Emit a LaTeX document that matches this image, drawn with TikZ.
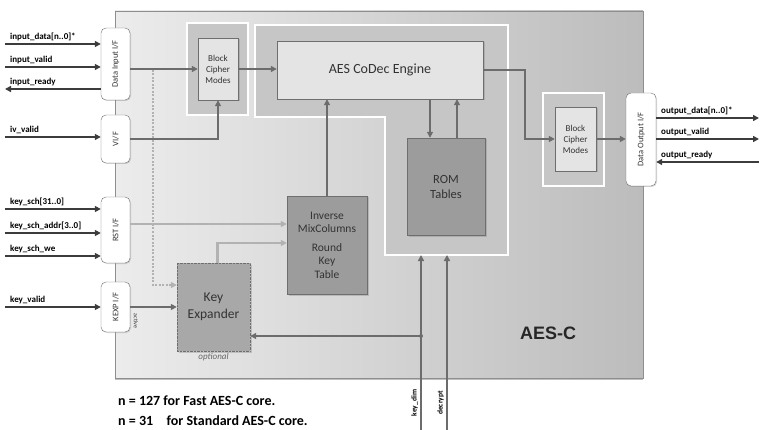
\documentclass[tikz,border=0pt]{standalone}
\usepackage{fontspec}
\setmainfont{Carlito}
\newfontfamily\headfont{Liberation Sans}
\usetikzlibrary{arrows.meta, positioning, shadows}

\definecolor{coreL}{HTML}{ECECEC}
\definecolor{coreR}{HTML}{BCBCBC}
\definecolor{coreline}{HTML}{8E8E8E}
\definecolor{regfill}{HTML}{C6C6C6}
\definecolor{lite}{HTML}{E4E4E4}
\definecolor{darkfill}{HTML}{9C9C9C}
\definecolor{kefill}{HTML}{A8A8A8}
\definecolor{boxline}{HTML}{6E6E6E}
\definecolor{sigcol}{HTML}{3C3C3C}
\definecolor{conncol}{HTML}{6C6C6C}
\definecolor{lconcol}{HTML}{B2B2B2}
\definecolor{txt}{HTML}{333333}

\tikzset{
  >={Triangle[length=6pt,width=6pt]},
  core/.style={draw=coreline, line width=.8pt, left color=coreL, right color=coreR,
    drop shadow={shadow xshift=0pt, shadow yshift=-2pt, opacity=.5}},
  ifbox/.style={draw=boxline, fill=white, rounded corners=5pt, minimum width=29pt,
    inner sep=0pt, font=\fontsize{8.5}{9}\selectfont, text=txt,
    drop shadow={shadow xshift=1pt, shadow yshift=-1pt, opacity=.3}},
  region/.style={draw=white, line width=1.3pt, fill=regfill},
  litebox/.style={draw=boxline, fill=lite, inner sep=0pt, align=center, text=txt,
    drop shadow={shadow xshift=1.5pt, shadow yshift=-1.5pt, opacity=.35}},
  darkbox/.style={litebox, fill=darkfill},
  sig/.style={draw=sigcol, line width=2.2pt},
  conn/.style={draw=conncol, line width=2pt},
  lconn/.style={draw=lconcol, line width=2.5pt},
  dashline/.style={draw=lconcol, line width=1.5pt, dash pattern=on 2pt off 1.5pt},
  siglabel/.style={font=\bfseries\fontsize{9}{9}\selectfont, inner sep=1pt, anchor=south west}
}

\begin{document}
\begin{tikzpicture}[x=1pt, y=-1pt]
  \useasboundingbox (0,0) rectangle (762,430);

  % core
  \node[core, minimum width=528pt, minimum height=367pt] (core) at (379,194.5) {};
  \node[font=\headfont\bfseries\fontsize{18}{20}\selectfont, text=black!85] (title) at (548,333) {AES-C};

  % engine area
  \draw[region] (255,25) -- (508,25) -- (508,255) -- (385,255) -- (385,117) -- (255,117) -- cycle;
  \coordinate (ebase) at (446,255);
  \node[region, minimum width=61pt, minimum height=92pt] (bcm1o) at (217.5,69) {};
  \node[region, minimum width=61pt, minimum height=93pt] (bcm2o) at (573.5,139.5) {};

  \node[litebox, minimum width=40pt, minimum height=62pt, font=\fontsize{9}{11}\selectfont] (bcm1) at (218,69) {Block\\Cipher\\Modes};
  \node[litebox, minimum width=41pt, minimum height=64pt, font=\fontsize{9}{11}\selectfont] (bcm2) at (575.5,139) {Block\\Cipher\\Modes};
  \node[litebox, minimum width=206pt, minimum height=58pt, font=\fontsize{14}{16}\selectfont] (eng) at (380,70) {AES CoDec Engine};
  \node[darkbox, minimum width=78pt, minimum height=97pt, font=\fontsize{12.5}{15}\selectfont] (rom) at (446,186.5) {ROM\\Tables};
  \node[darkbox, minimum width=80pt, minimum height=98pt, font=\fontsize{11.5}{13.5}\selectfont] (imc) at (327,245) {Inverse\\MixColumns\\[5pt]Round\\Key\\Table};
  \node[darkbox, fill=kefill, densely dotted, minimum width=73pt, minimum height=88pt, font=\fontsize{13.5}{17}\selectfont] (ke) at (213.5,307) {Key\\Expander};
  \node[below=1pt of ke, font=\itshape\fontsize{9}{10}\selectfont, text=black!60, inner sep=1pt] (opt) {optional};

  % interfaces
  \node[ifbox, minimum height=72pt] (din) at (115.5,64) {\rotatebox{90}{Data Input I/F}};
  \node[ifbox, minimum height=48pt] (vif) at (115.5,139) {\rotatebox{90}{VI/F}};
  \node[ifbox, minimum height=66pt] (rif) at (115.5,230) {\rotatebox{90}{RST I/F}};
  \node[ifbox, minimum height=50pt] (kif) at (115.5,307) {\rotatebox{90}{KEXP I/F}};
  \node[ifbox, minimum width=30pt, minimum height=93pt] (dout) at (641,139.5) {\rotatebox{90}{Data Output I/F}};
  \node[rotate=-90, font=\fontsize{6}{6}\selectfont, text=txt, inner sep=1pt] (act) at (136,321) {active};

  % inputs
  \foreach \y/\ifc/\txt in {44/din/{input\_data[n..0]*}, 67/din/{input\_valid}, 137/vif/{iv\_valid},
      209/rif/{key\_sch[31..0]}, 233/rif/{key\_sch\_addr[3..0]}, 256/rif/{key\_sch\_we}, 307/kif/{key\_valid}}{
    \coordinate (s\y) at (5,\y);
    \draw[sig,->] (s\y) -- (\ifc.west |- s\y);
    \node[siglabel] (l\y) at (9,\y-2) {\txt};
  }
  \coordinate (rdy) at (5,89);
  \draw[sig,->] (din.west |- rdy) -- (rdy);
  \node[siglabel] (lrdy) at (9,87) {input\_ready};

  % outputs
  \foreach \y/\txt in {118/{output\_data[n..0]*}, 139/{output\_valid}}{
    \coordinate (o\y) at (759,\y);
    \draw[sig,->] (dout.east |- o\y) -- (o\y);
    \node[siglabel] (m\y) at (660,\y-2) {\txt};
  }
  \coordinate (ordy) at (759,162);
  \draw[sig,->] (ordy) -- (dout.east |- ordy);
  \node[siglabel] (mrdy) at (660,160) {output\_ready};

  % data path
  \draw[conn,->] (din.east |- bcm1.west) -- (bcm1.west);
  \draw[conn,->] (vif.east) -| (bcm1.south);
  \draw[conn,->] (bcm1.east) -- (eng.west |- bcm1.east);
  \draw[conn,->] (eng.east) -- ++(42,0) |- (bcm2.west);
  \draw[conn,->] (bcm2.east) -- (dout.west |- bcm2.east);
  \draw[conn,->] ([xshift=-16pt]rom.north |- eng.south) -- ([xshift=-16pt]rom.north);
  \draw[conn,->] ([xshift=11pt]rom.north) -- ([xshift=11pt]rom.north |- eng.south);
  \draw[conn,->] (imc.north) -- (imc.north |- eng.south);

  % key path
  \draw[lconn,->] (rif.east |- 0,224) -- (imc.west |- 0,224);
  \draw[lconn,->] ([xshift=4pt]ke.north) |- ([yshift=2pt]imc.west);
  \coordinate (dtop) at (153,70);
  \draw[dashline,->] (dtop) |- ([yshift=22pt]ke.west);
  \draw[conn,->] (kif) -- (ke);

  % bottom controls
  \coordinate (kd) at (421,430);
  \coordinate (dc) at (447,430);
  \coordinate (j) at (421,336);
  \draw[conn,->] (kd) -- (kd |- ebase);
  \draw[conn,->] (dc) -- (dc |- ebase);
  \draw[conn,->] (j) -- (ke.east |- j);
  \fill[conncol] (j) circle (2pt);
  \node[rotate=90, anchor=south, font=\bfseries\fontsize{7.5}{8}\selectfont, inner sep=1pt] (lkd) at (419,403) {key\_dim};
  \node[rotate=90, anchor=south, font=\bfseries\fontsize{7.5}{8}\selectfont, inner sep=1pt] (ldc) at (445,403) {decrypt};

  % notes
  \node[anchor=north west, align=left, font=\bfseries\fontsize{14}{20}\selectfont, inner sep=0pt] (notes) at (118,396)
    {n = 127 for Fast AES-C core.\\ n = 31\hphantom{7}\ \ for Standard AES-C core.};
\end{tikzpicture}
\end{document}
